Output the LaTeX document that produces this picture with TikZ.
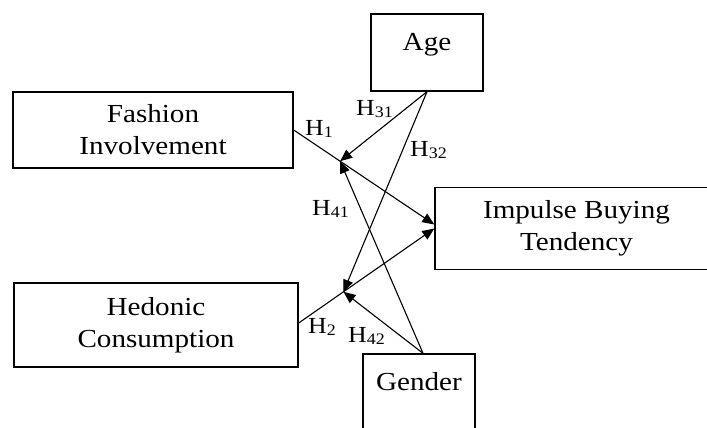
\documentclass[tikz,border=0pt]{standalone}
\usepackage{fontspec}
\setmainfont{Liberation Serif}[FakeStretch=1.12]
\usetikzlibrary{arrows.meta,calc}
\tikzset{
  box/.style={draw, line width=1.4pt, align=center, font=\fontsize{26}{32}\selectfont, inner sep=0pt},
  lbl/.style={anchor=base west, inner sep=0pt, font=\fontsize{23}{23}\selectfont},
  arr/.style={line width=1.1pt, -{Triangle[length=12pt,width=10pt]}},
}
\newcommand\hsub[1]{H\raisebox{-2pt}{\fontsize{16}{16}\selectfont #1}}
\begin{document}
\begin{tikzpicture}[x=1pt,y=-1pt]
\useasboundingbox (0,0) rectangle (707,428);
\clip (0,0) rectangle (707,428);
% boxes
\node[box, minimum width=280pt, minimum height=76pt] (fi) at (153,130) {Fashion\\Involvement};
\node[box, minimum width=284pt, minimum height=84pt] (hc) at (156,325) {Hedonic\\Consumption};
\node[box, minimum width=283pt, minimum height=82pt] (ib) at (576.5,228.5) {Impulse Buying\\Tendency};
\node[box, minimum width=112pt, minimum height=77pt, text depth=22pt] (ag) at (427,52.5) {Age};
\node[box, minimum width=112pt, minimum height=77pt, text depth=22pt] (gd) at (419,392.5) {Gender};
% endpoints
\coordinate (h1s) at (fi.east);
\coordinate (h1e) at ($(ib.west)+(0,-4)$);
\coordinate (h2s) at ($(hc.east)+(0,-2)$);
\coordinate (h2e) at (ib.west);
\coordinate (m1) at ($(h1s)!0.33!(h1e)$);
\coordinate (m2) at ($(h2s)!0.33!(h2e)$);
\coordinate (gt) at ($(gd.north)+(4,0)$);
% connectors
\draw[arr] (h1s) -- (h1e);
\draw[arr] (h2s) -- (h2e);
\draw[arr] (ag.south) -- (m1);
\draw[arr] (ag.south) -- (m2);
\draw[arr] (gt) -- (m1);
\draw[arr] (gt) -- (m2);
% labels
\node[lbl] (l1) at (305,135) {\hsub{1}};
\node[lbl] (l31) at (356,115) {\hsub{31}};
\node[lbl] (l32) at (410,156) {\hsub{32}};
\node[lbl] (l41) at (312,215) {\hsub{41}};
\node[lbl] (l2) at (308,333) {\hsub{2}};
\node[lbl] (l42) at (348,342) {\hsub{42}};
\end{tikzpicture}
\end{document}
